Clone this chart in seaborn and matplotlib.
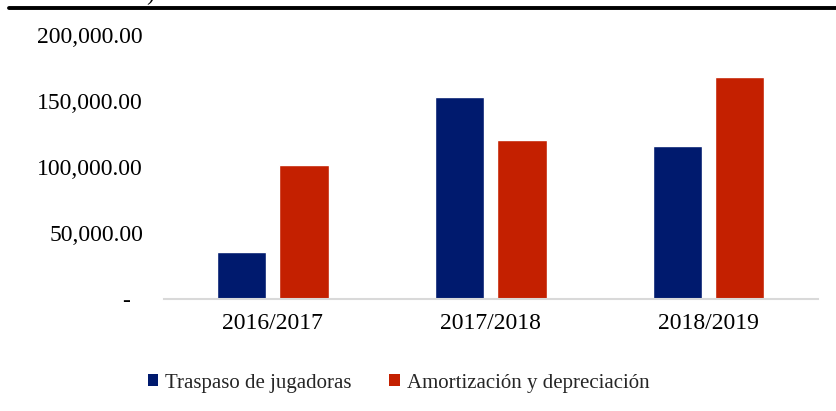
import numpy as np
import pandas as pd
import matplotlib
matplotlib.use("Agg")
import matplotlib.pyplot as plt
from matplotlib.patches import Patch
from matplotlib.lines import Line2D
from matplotlib.ticker import FuncFormatter
import seaborn as sns

# data
temporadas = ["2016/2017", "2017/2018", "2018/2019"]
traspaso = [36000, 153000, 116000]
amortizacion = [102000, 120500, 168000]
series = ["Traspaso de jugadoras", "Amortización y depreciación"]
colores = ["#001A6E", "#C42000"]

df = pd.DataFrame({
    "temporada": temporadas * 2,
    "serie": [series[0]] * 3 + [series[1]] * 3,
    "valor": traspaso + amortizacion,
})

sns.set_theme(style="white")
plt.rcParams["font.family"] = ["Liberation Serif", "DejaVu Serif"]

fig = plt.figure(figsize=(8.36, 4.11), dpi=100)
ax = fig.add_axes([0.196, 0.2718, 0.782, 0.643])

sns.barplot(data=df, x="temporada", y="valor", hue="serie", palette=colores,
            width=0.572, gap=0.21, ax=ax, legend=False, saturation=1)

ax.set_xlim(-0.5, 2.5)
ax.set_ylim(0, 200000)
ax.set_yticks([0, 50000, 100000, 150000, 200000])

def fmt(v, pos):
    if v == 0:
        return "-  "
    return f"{v:,.2f}"

ax.yaxis.set_major_formatter(FuncFormatter(fmt))
ax.tick_params(axis="y", length=0, pad=15, labelsize=17, labelcolor="black")
ax.tick_params(axis="x", length=0, pad=10, labelsize=17, labelcolor="black")
ax.set_xlabel("")
ax.set_ylabel("")

for s in ["top", "right", "left"]:
    ax.spines[s].set_visible(False)
ax.spines["bottom"].set_color("#d9d9d9")
ax.spines["bottom"].set_linewidth(1.5)

# legend below the chart
handles = [Patch(facecolor=c, edgecolor="none") for c in colores]
fig.legend(handles, series, loc="center", bbox_to_anchor=(0.477, 0.068),
           ncol=2, frameon=False, fontsize=15, handlelength=0.5,
           handleheight=0.5, handletextpad=0.34, columnspacing=1.8)

# black rule at top and cropped fragment of the title
fig.add_artist(Line2D([9 / 836, 1.0], [1 - 8.0 / 411, 1 - 8.0 / 411],
                      transform=fig.transFigure, color="black", lw=2.8))
fig.text(0.179, 1.0, ")", fontsize=17, va="baseline", ha="center", color="black")

fig.savefig("out.png", dpi=100)
